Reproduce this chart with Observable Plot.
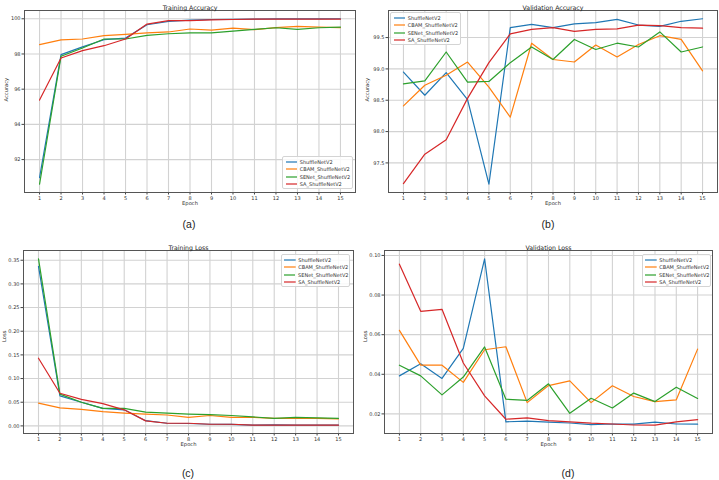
<!DOCTYPE html>
<html><head><meta charset="utf-8">
<script src="https://cdn.jsdelivr.net/npm/d3@7"></script>
<script src="https://cdn.jsdelivr.net/npm/@observablehq/plot@0.6"></script>
<style>
body{margin:0;background:#fff;font-family:"DejaVu Sans",sans-serif;}
#root{position:relative;width:719px;height:480px;overflow:hidden;background:#fff;}
.panel{position:absolute;width:360px;height:240px;}
.panel > svg{position:absolute;left:0;top:0;}
.cap{position:absolute;font-family:"Liberation Sans",Arial,sans-serif;font-size:10.5px;color:#222;transform:translate(-50%,-50%);white-space:nowrap;}
.legend{position:absolute;background:rgba(255,255,255,0.85);border:1px solid #d4d4d4;border-radius:2px;box-sizing:border-box;padding-top:1.5px;}
.legend .row{height:7.3px;display:flex;align-items:center;font-size:5px;color:#333;white-space:nowrap;}
.legend svg{display:block;margin-left:2.5px;margin-right:2.6px;}
</style>
</head><body><div id="root"></div>
<script>
const epochs = [1,2,3,4,5,6,7,8,9,10,11,12,13,14,15];
const models = ["ShuffleNetV2","CBAM_ShuffleNetV2","SENet_ShuffleNetV2","SA_ShuffleNetV2"];
const colors = ["#1f77b4","#ff7f0e","#2ca02c","#d62728"];

// (a) Training Accuracy
const trainAcc_ShuffleNetV2      = [90.98,97.96,98.40,98.81,98.90,99.66,99.85,99.92,99.96,99.97,99.98,99.99,99.99,99.99,100.0];
const trainAcc_CBAM_ShuffleNetV2 = [98.53,98.80,98.85,99.04,99.11,99.20,99.25,99.42,99.36,99.47,99.38,99.50,99.57,99.53,99.50];
const trainAcc_SENet_ShuffleNetV2= [90.60,97.87,98.34,98.85,98.85,99.06,99.15,99.20,99.20,99.30,99.40,99.49,99.40,99.49,99.53];
const trainAcc_SA_ShuffleNetV2   = [95.38,97.77,98.19,98.47,98.85,99.70,99.90,99.90,99.94,99.96,99.98,99.98,99.98,99.98,99.98];

// (b) Validation Accuracy
const valAcc_ShuffleNetV2      = [98.95,98.58,98.94,98.51,97.16,99.66,99.71,99.66,99.72,99.74,99.79,99.70,99.68,99.76,99.80];
const valAcc_CBAM_ShuffleNetV2 = [98.41,98.74,98.90,99.11,98.71,98.23,99.41,99.15,99.11,99.38,99.19,99.39,99.53,99.47,98.97];
const valAcc_SENet_ShuffleNetV2= [98.76,98.81,99.27,98.79,98.80,99.10,99.35,99.15,99.47,99.31,99.41,99.35,99.59,99.27,99.35];
const valAcc_SA_ShuffleNetV2   = [97.17,97.64,97.87,98.53,99.10,99.56,99.63,99.66,99.60,99.63,99.64,99.70,99.69,99.66,99.65];

// (c) Training Loss
const trainLoss_ShuffleNetV2      = [0.337,0.0635,0.050,0.037,0.034,0.011,0.0056,0.005,0.0035,0.003,0.0015,0.002,0.0015,0.0015,0.0015];
const trainLoss_CBAM_ShuffleNetV2 = [0.048,0.038,0.035,0.030,0.027,0.025,0.023,0.018,0.022,0.018,0.018,0.016,0.016,0.016,0.015];
const trainLoss_SENet_ShuffleNetV2= [0.353,0.067,0.050,0.037,0.037,0.029,0.027,0.025,0.024,0.022,0.019,0.016,0.018,0.017,0.016];
const trainLoss_SA_ShuffleNetV2   = [0.143,0.069,0.056,0.047,0.034,0.0106,0.0056,0.0056,0.0035,0.0035,0.0015,0.0015,0.0015,0.0015,0.0015];

// (d) Validation Loss
const valLoss_ShuffleNetV2      = [0.0392,0.0453,0.0379,0.0531,0.0983,0.0160,0.0163,0.0158,0.0154,0.0146,0.0149,0.0148,0.0158,0.0149,0.0148];
const valLoss_CBAM_ShuffleNetV2 = [0.0622,0.0446,0.0446,0.0359,0.0524,0.0539,0.0257,0.0343,0.0367,0.0257,0.0342,0.0288,0.0262,0.0271,0.0527];
const valLoss_SENet_ShuffleNetV2= [0.0446,0.0392,0.0296,0.0386,0.0538,0.0274,0.0268,0.0352,0.0203,0.0279,0.0230,0.0305,0.0262,0.0335,0.0278];
const valLoss_SA_ShuffleNetV2   = [0.0956,0.0718,0.0728,0.0457,0.0291,0.0173,0.0180,0.0166,0.0160,0.0153,0.0149,0.0144,0.0143,0.0160,0.0171];

// tick labels
const ticksA = [92,94,96,98,100];
const ticksB = [97.5,98.0,98.5,99.0,99.5];
const ticksC = [0.00,0.05,0.10,0.15,0.20,0.25,0.30,0.35];
const ticksD = [0.02,0.04,0.06,0.08,0.10];

const titles = ["Training Accuracy","Validation Accuracy","Training Loss","Validation Loss"];
const yLabels = ["Accuracy","Accuracy","Loss","Loss"];
const captions = ["(a)","(b)","(c)","(d)"];

function table(series){
  const rows=[];
  series.forEach((vals,i)=>vals.forEach((v,j)=>rows.push({epoch:epochs[j],value:v,model:models[i]})));
  return rows;
}

const panels = [
  {series:[trainAcc_ShuffleNetV2,trainAcc_CBAM_ShuffleNetV2,trainAcc_SENet_ShuffleNetV2,trainAcc_SA_ShuffleNetV2], ticks:ticksA, fmt:d=>String(d),
   left:0, top:0, h:215, mL:24, mR:5, mT:10, mB:23, ylx:-18.5, leg:{x:282,y:156,w:71,h:33}, cap:{x:189,y:224}},
  {series:[valAcc_ShuffleNetV2,valAcc_CBAM_ShuffleNetV2,valAcc_SENet_ShuffleNetV2,valAcc_SA_ShuffleNetV2], ticks:ticksB, fmt:d=>d.toFixed(1),
   left:359, top:0, h:215, mL:29, mR:2, mT:10, mB:23, ylx:-21, leg:{x:31,y:12,w:71,h:33}, cap:{x:189,y:224}},
  {series:[trainLoss_ShuffleNetV2,trainLoss_CBAM_ShuffleNetV2,trainLoss_SENet_ShuffleNetV2,trainLoss_SA_ShuffleNetV2], ticks:ticksC, fmt:d=>d.toFixed(2),
   left:0, top:240, h:216, mL:23, mR:7, mT:10, mB:23, ylx:-18.7, leg:{x:280.5,y:14,w:69,h:33}, cap:{x:188,y:233}},
  {series:[valLoss_ShuffleNetV2,valLoss_CBAM_ShuffleNetV2,valLoss_SENet_ShuffleNetV2,valLoss_SA_ShuffleNetV2], ticks:ticksD, fmt:d=>d.toFixed(2),
   left:359, top:240, h:216, mL:25, mR:7, mT:10, mB:23, ylx:-19, leg:{x:282.5,y:14,w:69,h:33}, cap:{x:209,y:233}}
];

const root = document.getElementById("root");
panels.forEach((p,k)=>{
  const rows = table(p.series);
  const [lo,hi] = d3.extent(rows,d=>d.value);
  const pad = (hi-lo)*0.05;
  const chart = Plot.plot({
    width:360, height:p.h,
    marginLeft:p.mL, marginRight:p.mR, marginTop:p.mT, marginBottom:p.mB,
    style:{fontFamily:"DejaVu Sans, sans-serif", background:"transparent", color:"#333"},
    x:{domain:[0.3,15.7]},
    y:{domain:[lo-pad,hi+pad]},
    color:{domain:models, range:colors},
    marks:[
      Plot.gridX(epochs,{stroke:"#d2d2d2", strokeOpacity:1, strokeWidth:1.1}),
      Plot.gridY(p.ticks,{stroke:"#d2d2d2", strokeOpacity:1, strokeWidth:1.1}),
      Plot.axisX(epochs,{tickSize:2.5, tickPadding:1, fontSize:5, label:null, stroke:"#444"}),
      Plot.axisY(p.ticks,{tickSize:2.5, tickPadding:1.5, fontSize:5, label:null, tickFormat:p.fmt, stroke:"#444"}),
      Plot.line(rows,{x:"epoch", y:"value", stroke:"model", z:"model", strokeWidth:1.2, clip:true}),
      Plot.frame({stroke:"#555", strokeWidth:1}),
      Plot.text([titles[k]],{text:d=>d, frameAnchor:"top", dy:-5, fontSize:6.2, fill:"#222"}),
      Plot.text(["Epoch"],{text:d=>d, frameAnchor:"bottom", dy:12.3, fontSize:5.2, fill:"#333"}),
      Plot.text([yLabels[k]],{text:d=>d, frameAnchor:"left", dx:p.ylx, rotate:-90, fontSize:5.2, fill:"#333"})
    ]
  });
  const div = document.createElement("div");
  div.className="panel";
  div.style.left=p.left+"px"; div.style.top=p.top+"px";
  div.appendChild(chart);
  const leg = document.createElement("div");
  leg.className="legend";
  leg.style.left=p.leg.x+"px"; leg.style.top=p.leg.y+"px";
  leg.style.width=p.leg.w+"px"; leg.style.height=p.leg.h+"px";
  models.forEach((m,i)=>{
    const r=document.createElement("div"); r.className="row";
    r.innerHTML=`<svg width="11.7" height="4"><line x1="0" x2="11.7" y1="2" y2="2" stroke="${colors[i]}" stroke-width="1.2"/></svg><span>${m}</span>`;
    leg.appendChild(r);
  });
  div.appendChild(leg);
  const cap=document.createElement("div");
  cap.className="cap"; cap.textContent=captions[k];
  cap.style.left=p.cap.x+"px"; cap.style.top=p.cap.y+"px";
  div.appendChild(cap);
  root.appendChild(div);
});
</script>
</body></html>
